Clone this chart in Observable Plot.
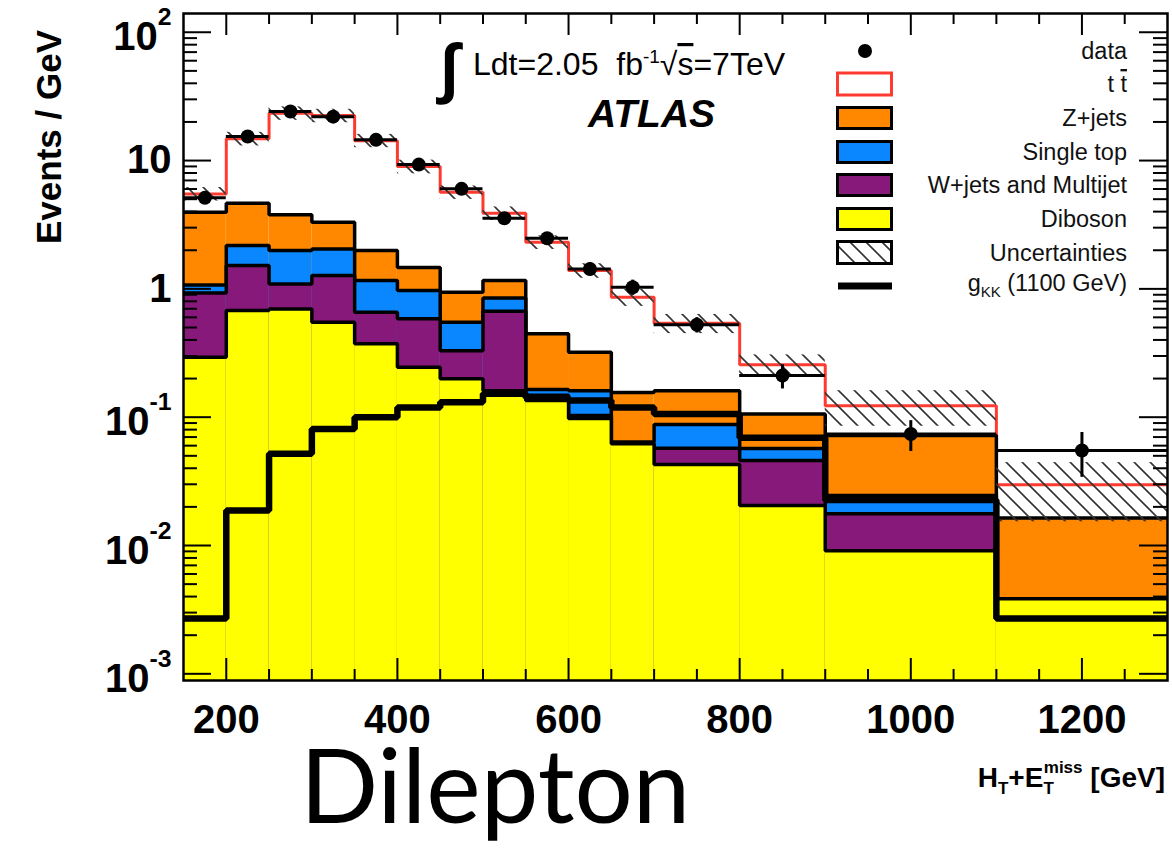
<!DOCTYPE html>
<html>
<head>
<meta charset="utf-8">
<script src="https://cdn.jsdelivr.net/npm/d3@7"></script>
<script src="https://cdn.jsdelivr.net/npm/@observablehq/plot@0.6"></script>
<style>
  html, body { margin: 0; padding: 0; background: #fff; }
  #chart { position: relative; width: 1172px; height: 848px; overflow: hidden; }
  #chart > svg { position: absolute; left: 0; top: 0; }
  #overlay { pointer-events: none; font-family: "Liberation Sans", Arial, Helvetica, sans-serif; }
</style>
</head>
<body>
<div id="chart"></div>
<script>
// Bin edges of H_T + E_T^miss (GeV)
const binLow  = [150, 200, 250, 300, 350, 400, 450, 500, 550, 600, 650, 700, 800, 900, 1100];
const binHigh = [200, 250, 300, 350, 400, 450, 500, 550, 600, 650, 700, 800, 900, 1100, 1300];

// Background expectations per bin (events / GeV), stacked bottom to top
const diboson       = [0.293, 0.677, 0.698, 0.549, 0.373, 0.245, 0.199, 0.161, 0.135, 0.0975, 0.062, 0.0427, 0.0205, 0.0091, 0.00385];
const wjetsMultijet = [0.634, 0.843, 0.392, 0.721, 0.284, 0.339, 0.131, 0.508, 0.013, 0.0055, 0.0005, 0.0147, 0.0254, 0.0086, 0];
const singleTop     = [0.143, 0.66, 0.90, 0.78, 0.503, 0.386, 0.219, 0.179, 0.016, 0.058, 0.0015, 0.0302, 0.011, 0.0068, 0];
const zjets         = [2.88, 2.47, 1.80, 1.25, 0.83, 0.50, 0.392, 0.312, 0.282, 0.159, 0.092, 0.0734, 0.0491, 0.0474, 0.01255];
const ttbar         = [1.55, 10.15, 19.61, 19.1, 12.31, 7.51, 4.72, 2.72, 1.864, 1.07, 0.704, 0.379, 0.15, 0.0511, 0.0134];
// Total background uncertainty (absolute)
const bkgUncertainty = [0.66, 1.8, 2.8, 2.7, 1.7, 1.1, 0.68, 0.47, 0.28, 0.18, 0.13, 0.092, 0.05, 0.038, 0.0145];

// Observed data and its statistical error
const dataValues = [5.12, 15.4, 24.1, 22.0, 14.5, 9.3, 6.02, 3.55, 2.48, 1.43, 1.03, 0.525, 0.211, 0.074, 0.055];
const dataErrors = [0.32, 0.55, 0.7, 0.66, 0.54, 0.43, 0.35, 0.27, 0.22, 0.17, 0.14, 0.072, 0.045, 0.02, 0.021];

// KK gluon signal, m = 1100 GeV
const gkk1100 = [0.0027, 0.0187, 0.0518, 0.081, 0.1, 0.119, 0.131, 0.152, 0.142, 0.135, 0.119, 0.106, 0.069, 0.0226, 0.0027];

// Axis ticks and labels
const xTicks = [200, 400, 600, 800, 1000, 1200];
const xMinorTicks = [250, 300, 350, 450, 500, 550, 650, 700, 750, 850, 900, 950, 1050, 1100, 1150, 1250];
const yTicks = [1e-3, 1e-2, 1e-1, 1, 10, 100];
const yTickLabels = ["10^-3", "10^-2", "10^-1", "1", "10", "10^2"];

const colors = {
  ttbar: "#ff3b2f",
  zjets: "#ff8800",
  singleTop: "#0a86ff",
  wjets: "#86197a",
  diboson: "#ffff00"
};

// Frame geometry
const W = 1172, H = 848;
const M = {top: 13, right: 5, bottom: 168, left: 183};
const pw = W - M.left - M.right;
const ph = H - M.top - M.bottom;
const yDomain = [8.87e-4, 140];
const floor = yDomain[0] / 10;

// Cumulative stack per bin
const bins = binLow.map((lo, i) => {
  const c1 = diboson[i];
  const c2 = c1 + wjetsMultijet[i];
  const c3 = c2 + singleTop[i];
  const c4 = c3 + zjets[i];
  const c5 = c4 + ttbar[i];
  return {
    lo, hi: binHigh[i], mid: (lo + binHigh[i]) / 2,
    c1, c2, c3, c4, c5,
    err: bkgUncertainty[i],
    data: dataValues[i], dataErr: dataErrors[i],
    gkk: gkk1100[i]
  };
});

// Histogram outline as a step path through bin edges
const steps = key => bins.flatMap(b => [{x: b.lo, y: b[key]}, {x: b.hi, y: b[key]}]);

const layers = [
  {key: "c5", fill: "white", stroke: colors.ttbar, sw: 3},
  {key: "c4", fill: colors.zjets, stroke: "black", sw: 3.5},
  {key: "c3", fill: colors.singleTop, stroke: "black", sw: 3.5},
  {key: "c2", fill: colors.wjets, stroke: "black", sw: 3.5},
  {key: "c1", fill: colors.diboson, stroke: "black", sw: 3.5}
];

const yMinor = [];
for (let e = -3; e <= 1; e++) for (let k = 2; k <= 9; k++) yMinor.push(k * Math.pow(10, e));

const marks = [];
for (const L of layers) {
  marks.push(Plot.rectY(bins, {x1: "lo", x2: "hi", y1: () => floor, y2: L.key, fill: L.fill, clip: true}));
  marks.push(Plot.line(steps(L.key), {x: "x", y: "y", stroke: L.stroke, strokeWidth: L.sw, strokeLinejoin: "miter", strokeLinecap: "square", clip: true}));
}

marks.push(
  // uncertainty band around the total expectation
  Plot.rectY(bins, {x1: "lo", x2: "hi", y1: d => d.c5 - d.err, y2: d => d.c5 + d.err, fill: "url(#hatch)", clip: true}),
  // signal
  Plot.line(steps("gkk"), {x: "x", y: "y", stroke: "black", strokeWidth: 6.5, strokeLinejoin: "miter", strokeLinecap: "square", clip: true}),
  // data with errors
  Plot.ruleY(bins, {y: "data", x1: "lo", x2: "hi", stroke: "black", strokeWidth: 3, clip: true}),
  Plot.ruleX(bins, {x: "mid", y1: d => d.data - d.dataErr, y2: d => d.data + d.dataErr, stroke: "black", strokeWidth: 3, clip: true}),
  Plot.dot(bins, {x: "mid", y: "data", r: 7, fill: "black"}),
  // inward ticks on all four sides
  Plot.tickY(yTicks, {y: d => d, insetRight: pw - 28, strokeWidth: 2}),
  Plot.tickY(yMinor, {y: d => d, insetRight: pw - 14, strokeWidth: 2}),
  Plot.tickY(yTicks, {y: d => d, insetLeft: pw - 28, strokeWidth: 2}),
  Plot.tickY(yMinor, {y: d => d, insetLeft: pw - 14, strokeWidth: 2}),
  Plot.tickX(xTicks, {x: d => d, insetTop: ph - 22, strokeWidth: 2}),
  Plot.tickX(xMinorTicks, {x: d => d, insetTop: ph - 11, strokeWidth: 2}),
  Plot.tickX(xTicks, {x: d => d, insetBottom: ph - 22, strokeWidth: 2}),
  Plot.tickX(xMinorTicks, {x: d => d, insetBottom: ph - 11, strokeWidth: 2}),
  Plot.frame({stroke: "black", strokeWidth: 2.5}),
  Plot.axisX(xTicks, {anchor: "bottom", tickSize: 0, tickPadding: 24, tickFormat: d => String(d), fontSize: 40, fontWeight: "bold", fill: "black"}),
  Plot.axisY(yTicks, {anchor: "left", tickSize: 0, tickPadding: 12, tickFormat: d => yTickLabels[yTicks.indexOf(d)], fontSize: 40, fontWeight: "bold", fill: "black"})
);

const plot = Plot.plot({
  width: W, height: H,
  marginTop: M.top, marginRight: M.right, marginBottom: M.bottom, marginLeft: M.left,
  x: {domain: [150, 1300]},
  y: {type: "log", domain: yDomain},
  style: {fontFamily: "'Liberation Sans', Arial, Helvetica, sans-serif", background: "white"},
  marks
});

// hatch pattern for the uncertainty band
const defs = d3.select(plot).insert("defs", ":first-child");
const pat = defs.append("pattern").attr("id", "hatch").attr("patternUnits", "userSpaceOnUse").attr("width", 16).attr("height", 16);
pat.append("path").attr("d", "M-2,-2L18,18M14,-2L18,2M-2,14L2,18").attr("stroke", "#333").attr("stroke-width", 1.6).attr("fill", "none");

// exponents on the log-axis labels
d3.select(plot).selectAll('[aria-label="y-axis tick label"] text').each(function () {
  const s = this.textContent;
  const k = s.indexOf("^");
  if (k < 0) return;
  const t = d3.select(this).text(null);
  t.append("tspan").attr("dy", "0.13em").text(s.slice(0, k));
  t.append("tspan").attr("dy", "-1em").attr("font-size", "0.62em").text(s.slice(k + 1));
});

document.getElementById("chart").appendChild(plot);

// titles, annotations and legend
const overlay = `
<svg id="overlay" width="${W}" height="${H}" xmlns="http://www.w3.org/2000/svg">
  <text transform="translate(61,137) rotate(-90)" text-anchor="middle" font-size="35" font-weight="bold">Events / GeV</text>
  <text x="1165" y="787" font-size="28" font-weight="bold" text-anchor="end">H<tspan dy="7" font-size="17">T</tspan><tspan dy="-7">+E</tspan><tspan dy="7" font-size="17">T</tspan><tspan dx="-10" dy="-21" font-size="17">miss</tspan><tspan dy="14"> [GeV]</tspan></text>
  <text x="300" y="823" font-family="Lato, 'Open Sans', sans-serif" font-size="103">Dilepton</text>

  <text x="440" y="90" font-size="66" font-weight="bold">∫</text>
  <text x="473" y="75" font-size="32" style="white-space:pre">Ldt=2.05  fb<tspan dy="-12" font-size="19">-1</tspan><tspan dy="12">√</tspan><tspan text-decoration="overline">s</tspan>=7TeV</text>
  <text x="588" y="127" font-size="39" font-weight="bold" font-style="italic">ATLAS</text>

  <g font-size="23.5" text-anchor="end" fill="#111">
    <circle cx="865" cy="51" r="7" fill="black"/>
    <text x="1127" y="59">data</text>
    <rect x="837.5" y="73" width="54" height="22" fill="white" stroke="${colors.ttbar}" stroke-width="3"/>
    <text x="1127" y="92">t <tspan text-decoration="overline">t</tspan></text>
    <rect x="837.5" y="107.5" width="54" height="21" fill="${colors.zjets}" stroke="black" stroke-width="3"/>
    <text x="1127" y="126">Z+jets</text>
    <rect x="837.5" y="141.5" width="54" height="21" fill="${colors.singleTop}" stroke="black" stroke-width="3"/>
    <text x="1127" y="160">Single top</text>
    <rect x="837.5" y="174.5" width="54" height="21" fill="${colors.wjets}" stroke="black" stroke-width="3"/>
    <text x="1127" y="193">W+jets and Multijet</text>
    <rect x="837.5" y="208.5" width="54" height="21" fill="${colors.diboson}" stroke="black" stroke-width="3"/>
    <text x="1127" y="227">Diboson</text>
    <rect x="837.5" y="241.5" width="54" height="22" fill="url(#hatch)" stroke="black" stroke-width="3"/>
    <text x="1127" y="261">Uncertainties</text>
    <line x1="838" x2="892" y1="286" y2="286" stroke="black" stroke-width="7"/>
    <text x="1127" y="291">g<tspan dy="6" font-size="15">KK</tspan><tspan dy="-6"> (1100 GeV)</tspan></text>
  </g>
</svg>`;
document.getElementById("chart").insertAdjacentHTML("beforeend", overlay);
</script>
</body>
</html>
